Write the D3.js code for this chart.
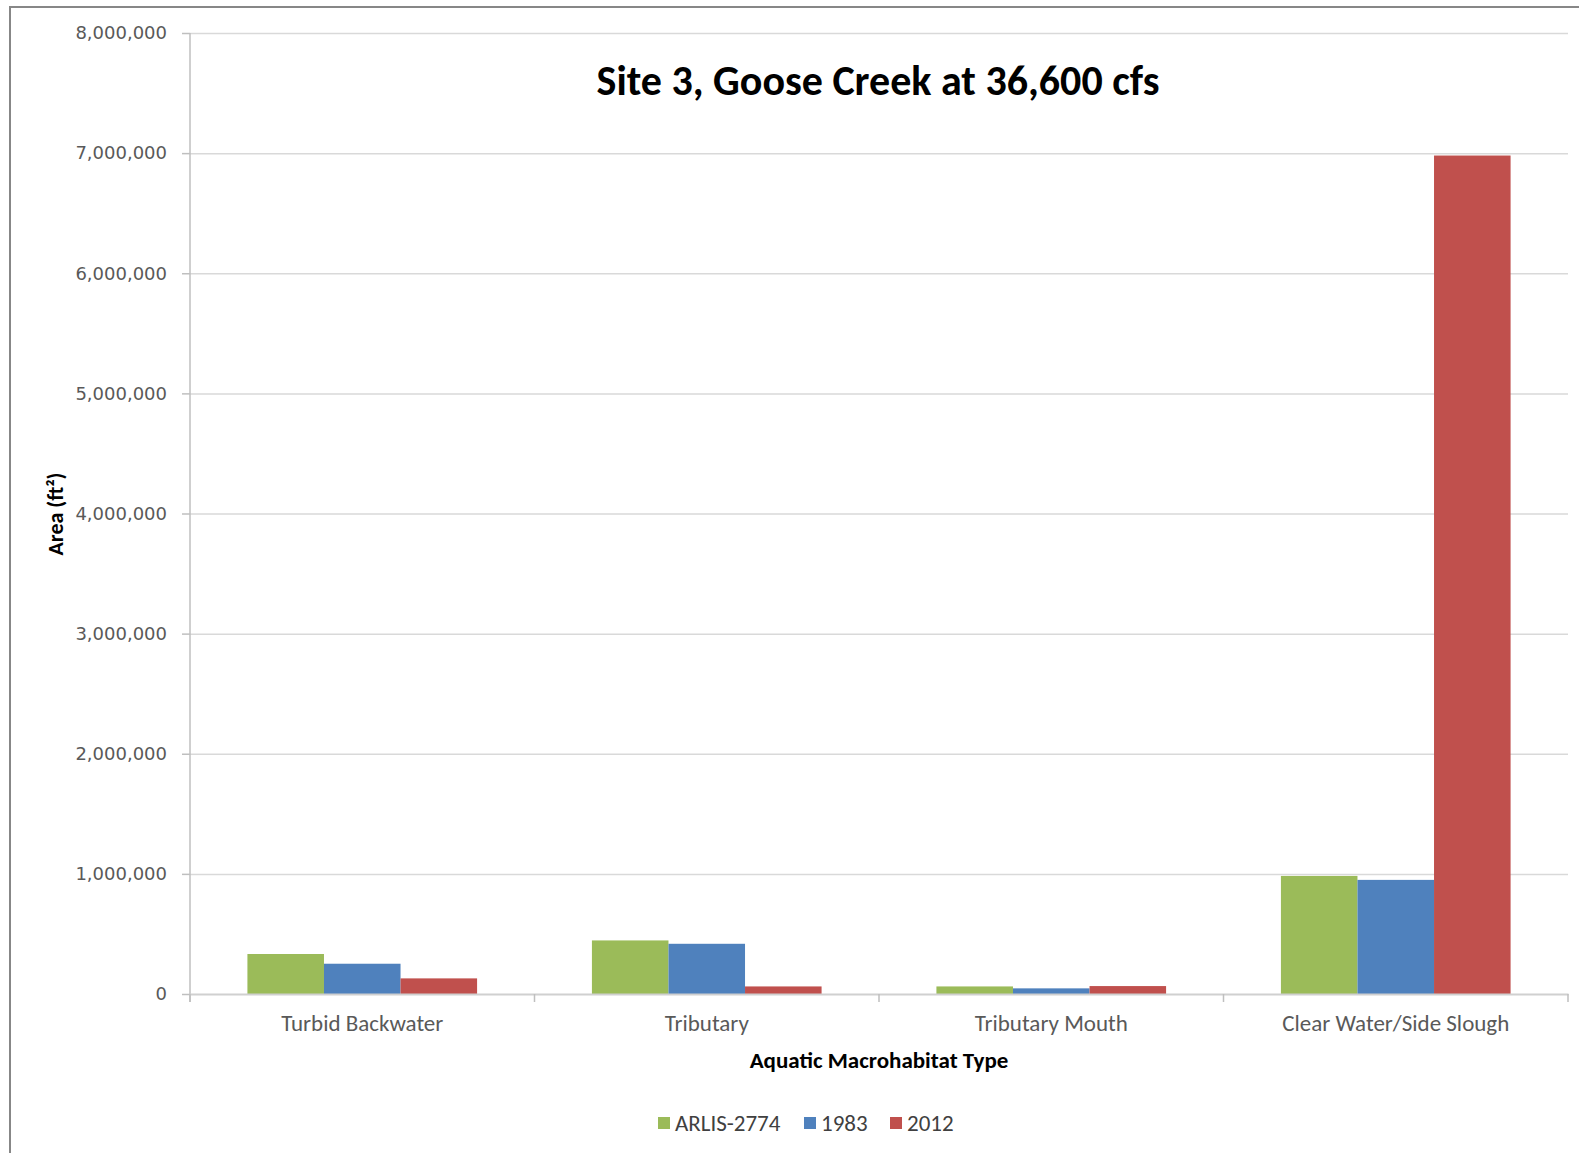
<!DOCTYPE html>
<html>
<head>
<meta charset="utf-8">
<script src="https://cdn.jsdelivr.net/npm/d3@7"></script>
<style>
  body { margin: 0; background: #fff; }
  svg { display: block; }
</style>
</head>
<body>
<div id="chart"></div>
<script>
// chart values
var categories = ["Turbid Backwater", "Tributary", "Tributary Mouth", "Clear Water/Side Slough"];
var seriesNames = ["ARLIS-2774", "1983", "2012"];
var arlisValues = [333000, 446000, 63000, 983000];
var values1983 = [252000, 418000, 47000, 950000];
var values2012 = [130000, 63000, 66000, 6980000];
var yTicks = [0, 1000000, 2000000, 3000000, 4000000, 5000000, 6000000, 7000000, 8000000];
var colors = ["#9BBB59", "#4F81BD", "#C0504D"];

var W = 1579, H = 1153;
var margin = {top: 33, right: 11, bottom: 159, left: 190};
var width = W - margin.left - margin.right,
    height = H - margin.top - margin.bottom;

var svg = d3.select("#chart").append("svg")
    .attr("width", W).attr("height", H);

// outer chart border (only top and left visible in the picture)
svg.append("rect")
    .attr("x", 10).attr("y", 7)
    .attr("width", W + 20).attr("height", H + 20)
    .attr("fill", "none").attr("stroke", "#878787").attr("stroke-width", 2);

var g = svg.append("g").attr("transform", "translate(" + margin.left + "," + margin.top + ")");

var allSeries = [arlisValues, values1983, values2012];
var rows = categories.map(function (c, i) {
    return {cat: c, vals: seriesNames.map(function (s, j) { return {name: s, value: allSeries[j][i], idx: j}; })};
});

var x0 = d3.scaleBand().domain(categories).range([0, width]).padding(0);
var bw = x0.bandwidth();
var x1 = d3.scaleBand().domain(seriesNames).range([bw * 0.75 / 4.5, bw * 3.75 / 4.5]).padding(0);
var y = d3.scaleLinear().domain([0, 8000000]).range([height, 0]);

// gridlines
var grid = g.append("g").call(d3.axisLeft(y).tickValues(yTicks.slice(1)).tickSize(-width).tickFormat(""));
grid.select(".domain").remove();
grid.selectAll("line").attr("stroke", "#d9d9d9").attr("stroke-width", 1.5);

// y axis
var yAxis = g.append("g").call(d3.axisLeft(y).tickValues(yTicks).tickSize(8).tickPadding(15).tickFormat(d3.format(",")));
yAxis.select(".domain").attr("stroke", "#bfbfbf").attr("stroke-width", 1.5).attr("d", "M0," + (height + 8) + "V0");
yAxis.selectAll("line").attr("stroke", "#bfbfbf").attr("stroke-width", 1.5);
yAxis.selectAll("text").attr("fill", "#595959").style("font-family", "'DejaVu Sans', Verdana, sans-serif").style("font-size", "18px");

// bars
var groups = g.selectAll(".grp").data(rows).enter().append("g")
    .attr("class", "grp")
    .attr("transform", function (d) { return "translate(" + x0(d.cat) + ",0)"; });
groups.selectAll("rect").data(function (d) { return d.vals; }).enter().append("rect")
    .attr("x", function (d) { return x1(d.name); })
    .attr("width", x1.bandwidth())
    .attr("y", function (d) { return y(d.value); })
    .attr("height", function (d) { return height - y(d.value); })
    .attr("fill", function (d) { return colors[d.idx]; });

// x axis
var xAxis = g.append("g").attr("transform", "translate(0," + height + ")")
    .call(d3.axisBottom(x0).tickSize(0).tickPadding(21));
xAxis.select(".domain").attr("stroke", "#d0d0d0").attr("stroke-width", 2);
xAxis.selectAll("text").attr("fill", "#595959").style("font-family", "Calibri, Carlito, Lato, sans-serif").style("font-size", "23px");
// category boundary ticks
var bounds = categories.map(function (c) { return x0(c); }).concat([width]);
xAxis.selectAll(".btick").data(bounds).enter().append("line")
    .attr("class", "btick")
    .attr("x1", function (d) { return d; }).attr("x2", function (d) { return d; })
    .attr("y1", 0).attr("y2", 8)
    .attr("stroke", "#bfbfbf").attr("stroke-width", 1.5);

// titles
svg.append("text")
    .attr("x", 878).attr("y", 95)
    .attr("text-anchor", "middle")
    .style("font-family", "Calibri, Carlito, Lato, sans-serif").style("font-weight", "bold").style("font-size", "42px")
    .text("Site 3, Goose Creek at 36,600 cfs");

svg.append("text")
    .attr("x", margin.left + width / 2).attr("y", 1068)
    .attr("text-anchor", "middle")
    .style("font-family", "Calibri, Carlito, Lato, sans-serif").style("font-weight", "bold").style("font-size", "23px")
    .text("Aquatic Macrohabitat Type");

svg.append("text")
    .attr("transform", "translate(63,514) rotate(-90)")
    .attr("text-anchor", "middle")
    .style("font-family", "Calibri, Carlito, Lato, sans-serif").style("font-weight", "bold").style("font-size", "22px")
    .text("Area (ft²)");

// legend
var legendX = [658, 804, 890];
var legend = svg.selectAll(".leg").data(seriesNames).enter().append("g")
    .attr("class", "leg")
    .attr("transform", function (d, i) { return "translate(" + legendX[i] + ",1123)"; });
legend.append("rect")
    .attr("x", 0).attr("y", -6).attr("width", 12).attr("height", 12)
    .attr("fill", function (d, i) { return colors[i]; });
legend.append("text")
    .attr("x", 17).attr("y", 8)
    .attr("fill", "#404040")
    .style("font-family", "Calibri, Carlito, Lato, sans-serif").style("font-size", "23px")
    .text(function (d) { return d; });
</script>
</body>
</html>
